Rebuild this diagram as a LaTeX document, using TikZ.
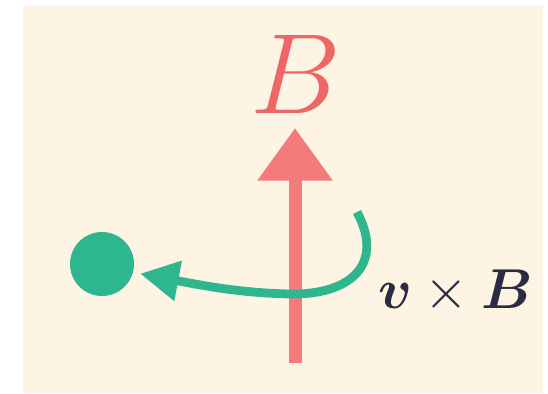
\RequirePackage{fix-cm}
\documentclass[tikz,border=0pt]{standalone}
\usepackage{amsmath,amssymb}
\usepackage{tikz}
\usetikzlibrary{arrows.meta}
\definecolor{paper}{HTML}{FDF4E3}
\definecolor{fieldred}{HTML}{F47B7B}
\definecolor{labelred}{HTML}{EE6666}
\definecolor{chargegreen}{HTML}{2EB68F}
\definecolor{ink}{HTML}{2A2C43}

\begin{document}
\begin{tikzpicture}[
    x=0.02cm, y=-0.02cm,
    field/.style={draw=fieldred, line width=7.4pt, -{Triangle[length=30pt, width=41pt]}},
    force/.style={draw=chargegreen, line width=5pt, -{Triangle[length=22pt, width=22pt]}},
    charge/.style={circle, fill=chargegreen, inner sep=0pt, minimum size=1.28cm},
]
\useasboundingbox (0,0) rectangle (548,393);
\fill[paper] (23,5) rectangle (543,393);

\node[charge] (q) at (102,264) {};
\node[anchor=base, inner sep=0pt, text=labelred, font=\fontsize{65}{70}\selectfont] (Blabel) at (296,113) {$B$};
\node[anchor=base west, inner sep=0pt, text=ink, font=\fontsize{32}{36}\selectfont] (vxB) at (378,308) {$\boldsymbol{v}\times\boldsymbol{B}$};

\coordinate (Bfoot) at (295,363);
\coordinate (Btip) at (295,128);
\coordinate (Fstart) at (357,212);

\draw[field] (Bfoot) -- (Btip);
\draw[force, shorten >=4pt] (Fstart) .. controls (385,265) and (350,295) .. (290,294)
    .. controls (240,293) and (200,285) .. (q.-15);
\end{tikzpicture}
\end{document}
